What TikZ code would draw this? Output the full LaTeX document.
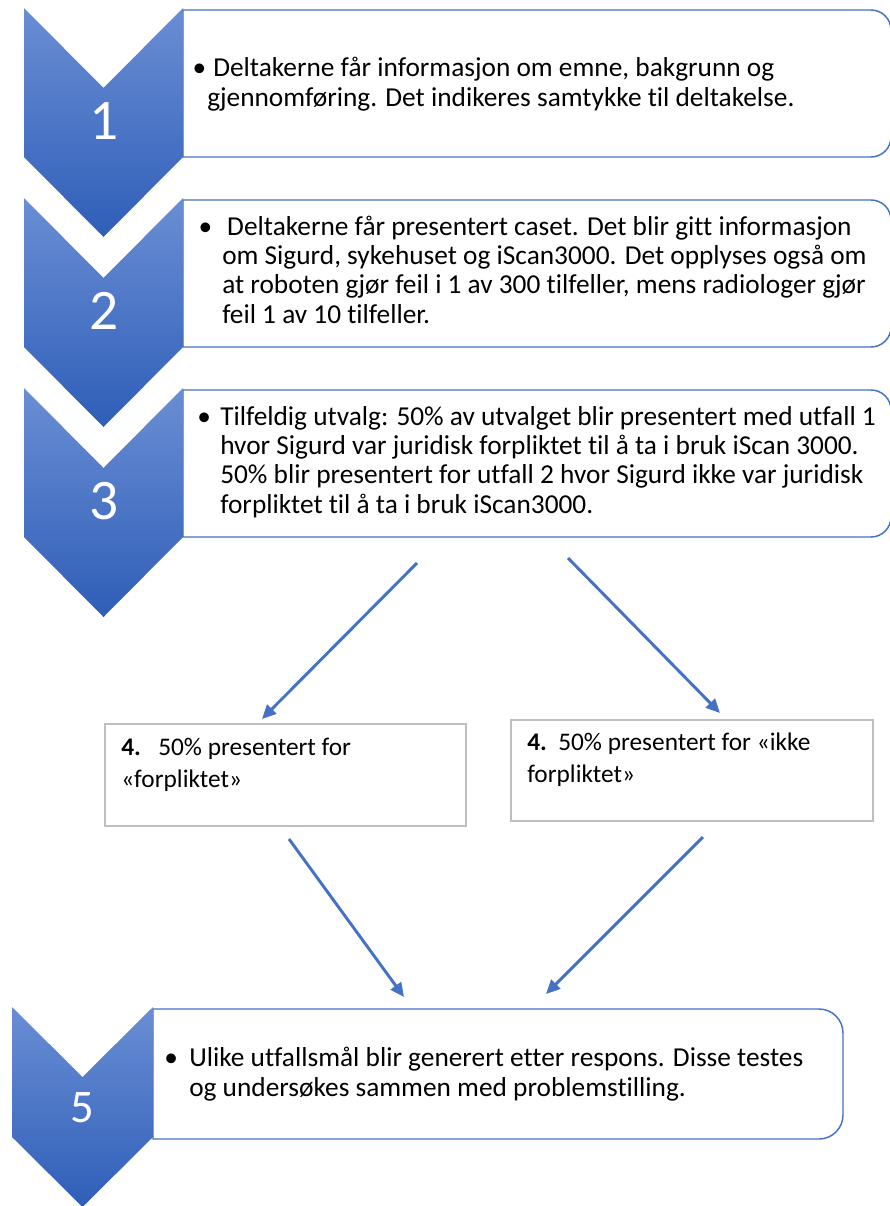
\documentclass[tikz,border=0pt]{standalone}
\usepackage{fontspec}
\setmainfont{Carlito}[Ligatures=NoCommon]
\usetikzlibrary{arrows.meta}

\definecolor{smartblue}{RGB}{68,114,196}
\definecolor{chevtop}{RGB}{106,142,212}
\definecolor{chevbot}{RGB}{47,94,184}
\definecolor{optgrey}{RGB}{191,191,191}

\newcommand{\stepdot}[1]{\llap{\textbullet\hspace{#1}}}

\tikzset{
  stepbox/.style={draw=smartblue, line width=1.1pt, fill=white},
  optbox/.style={draw=optgrey, line width=1.1pt, fill=white},
  chevron/.style={top color=chevtop, bottom color=chevbot},
  steptext/.style={anchor=base west, align=left, inner sep=0pt,
    font=\fontsize{20.5}{22}\selectfont},
  opttext/.style={anchor=base west, align=left, inner sep=0pt,
    font=\fontsize{19}{24}\selectfont},
  flow/.style={draw=smartblue, line width=2.2pt, -{Triangle[length=10.5pt,width=9.5pt]}}
}

\begin{document}
\begin{tikzpicture}[x=0.75pt,y=-0.75pt]
  \useasboundingbox (0,0) rectangle (889,1206);

  \foreach \t in {10,200,390} {
    \draw[stepbox] (183,\t) [rounded corners=15] -- (891,\t) -- (891,\t+147)
      [sharp corners] -- (183,\t+147) -- cycle;
  }
  \draw[stepbox] (153,1009) [rounded corners=18] -- (843,1009) -- (843,1139)
    [sharp corners] -- (153,1139) -- cycle;

  \foreach \t in {8,198,388} {
    \shade[chevron] (24,\t) -- (103.5,\t+80) -- (183,\t) -- (183,\t+149)
      -- (103.5,\t+229) -- (24,\t+149) -- cycle;
  }
  \shade[chevron] (12,1007) -- (82.5,1077) -- (153,1007) -- (153,1137)
    -- (82.5,1207) -- (12,1137) -- cycle;

  \draw[optbox] (105,724) rectangle (466,826);
  \draw[optbox] (511,720) rectangle (873,821);

  \begin{scope}[every node/.style={text=white, anchor=base,
      font=\fontsize{43}{43}\selectfont}]
    \node (n1) at (104,139) {1};
    \node (n2) at (104,329) {2};
    \node (n3) at (104,519) {3};
    \node[font=\fontsize{35}{35}\selectfont] (n5) at (82,1122) {5};
  \end{scope}

  \begin{scope}[every node/.style={steptext}]
    \node (s1) at (207,106) {\stepdot{0.75pt}\hspace{4.5pt}Deltakerne får informasjon om emne, bakgrunn og\\
      gjennomføring. Det indikeres samtykke til deltakelse.};
    \node (s2) at (222,323) {\stepdot{7.5pt}\hspace{3.75pt}Deltakerne får presentert caset. Det blir gitt informasjon\\
      om Sigurd, sykehuset og iScan3000. Det opplyses også om\\
      at roboten gjør feil i 1 av 300 tilfeller, mens radiologer gjør\\
      feil 1 av 10 tilfeller.};
    \node (s3) at (220,513) {\stepdot{7pt}Tilfeldig utvalg: 50\% av utvalget blir presentert med utfall 1\\
      hvor Sigurd var juridisk forpliktet til å ta i bruk iScan 3000.\\
      50\% blir presentert for utfall 2 hvor Sigurd ikke var juridisk\\
      forpliktet til å ta i bruk iScan3000.};
    \node (s5) at (189,1096) {\stepdot{8.5pt}Ulike utfallsmål blir generert etter respons. Disse testes\\
      og undersøkes sammen med problemstilling.};
  \end{scope}

  \begin{scope}[every node/.style={opttext}]
    \node (o1) at (121,787) {\makebox[27.75pt][l]{\textbf{4.}}50\% presentert for\\«forpliktet»};
    \node (o2) at (527,782) {\makebox[23.25pt][l]{\textbf{4.}}50\% presentert for «ikke\\forpliktet»};
  \end{scope}

  \coordinate (a1) at (417,563);
  \coordinate (b1) at (262,719);
  \coordinate (a2) at (568,558);
  \coordinate (b2) at (720,713);
  \coordinate (a3) at (289,839);
  \coordinate (b3) at (404,997);
  \coordinate (a4) at (703,837);
  \coordinate (b4) at (546,994);

  \begin{scope}[every edge/.style={flow}]
    \path (a1) edge (b1);
    \path (a2) edge (b2);
    \path (a3) edge (b3);
    \path (a4) edge (b4);
  \end{scope}

\end{tikzpicture}
\end{document}
